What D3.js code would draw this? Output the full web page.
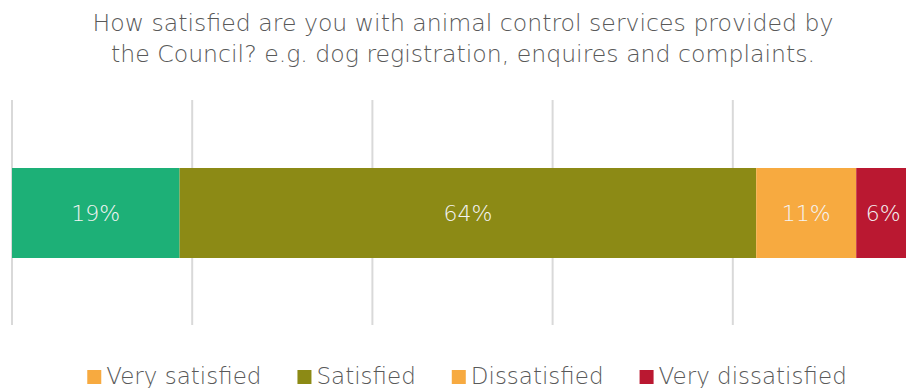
<!DOCTYPE html>
<html>
<head>
<meta charset="utf-8">
<script src="https://cdn.jsdelivr.net/npm/d3@7"></script>
<style>
  html, body { margin: 0; padding: 0; background: #fff; }
  svg { display: block; }
  text { font-family: "DejaVu Sans", sans-serif; }
</style>
</head>
<body>
<svg id="chart" width="906" height="388"></svg>
<script>
// Survey responses (share of respondents)
const categories = ["Very satisfied", "Satisfied", "Dissatisfied", "Very dissatisfied"];
const values = [0.186, 0.640, 0.111, 0.063];
const barColors = ["#1DB077", "#8C8A15", "#F7AA40", "#BA1831"];
const legendColors = ["#F7AA40", "#8C8A15", "#F7AA40", "#BA1831"];
const tickValues = [0, 0.2, 0.4, 0.6, 0.8, 1.0];
const titleLines = [
  "How satisfied are you with animal control services provided by",
  "the Council? e.g. dog registration, enquires and complaints."
];

const svg = d3.select("#chart");
const textColor = "#595959";

const x = d3.scaleLinear().domain([0, 1]).range([12, 913]);

// Vertical gridlines
svg.append("g")
  .selectAll("line")
  .data(tickValues)
  .join("line")
  .attr("x1", d => x(d)).attr("x2", d => x(d))
  .attr("y1", 100).attr("y2", 325)
  .attr("stroke", "#D9D9D9")
  .attr("stroke-width", 2);

// Stacked segments
let acc = 0;
const segs = values.map((v, i) => {
  const s = { key: categories[i], start: acc, end: acc + v, value: v, color: barColors[i] };
  acc += v;
  return s;
});

const bar = svg.append("g");
bar.selectAll("rect")
  .data(segs)
  .join("rect")
  .attr("x", d => x(d.start))
  .attr("width", d => x(d.end) - x(d.start))
  .attr("y", 168)
  .attr("height", 90)
  .attr("fill", d => d.color);

const fmt = d3.format(".0%");
bar.selectAll("text")
  .data(segs)
  .join("text")
  .attr("x", d => Math.min((x(d.start) + x(d.end)) / 2, (x(d.start) + 906) / 2 + 2))
  .attr("y", 213)
  .attr("dy", "0.35em")
  .attr("text-anchor", "middle")
  .attr("fill", "#F4F4F4")
  .attr("font-size", 22)
  .attr("font-weight", 200)
  .text(d => fmt(d.value));

// Title
svg.append("g")
  .selectAll("text")
  .data(titleLines)
  .join("text")
  .attr("x", 463)
  .attr("y", (d, i) => 31 + i * 31)
  .attr("text-anchor", "middle")
  .attr("fill", textColor)
  .attr("font-size", 23.6)
  .attr("font-weight", 200)
  .text(d => d);

// Legend
const legend = svg.append("g");
const items = legend.selectAll("g")
  .data(categories)
  .join("g");
items.append("rect")
  .attr("width", 14).attr("height", 14)
  .attr("y", 370)
  .attr("fill", (d, i) => legendColors[i]);
items.append("text")
  .attr("x", 19)
  .attr("y", 384)
  .attr("fill", textColor)
  .attr("font-size", 23)
  .attr("font-weight", 300)
  .text(d => d);

// Lay legend items out in a centred row
const gap = 36;
const widths = [];
items.each(function () { widths.push(19 + this.querySelector("text").getComputedTextLength()); });
const total = d3.sum(widths) + gap * (widths.length - 1);
let cx = 467 - total / 2;
items.attr("transform", (d, i) => {
  const t = `translate(${cx},0)`;
  cx += widths[i] + gap;
  return t;
});
</script>
</body>
</html>
